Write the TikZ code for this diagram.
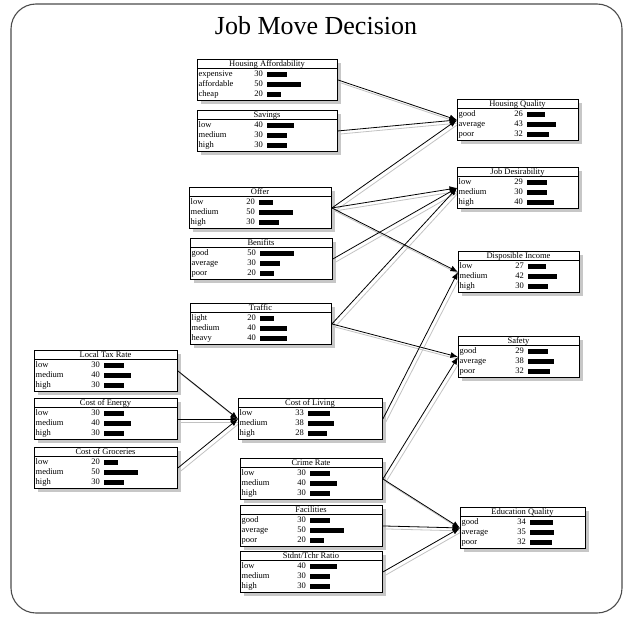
\documentclass[tikz,border=0pt]{standalone}
\usepackage{fontspec}
\setmainfont{Liberation Serif}
\usetikzlibrary{arrows.meta}
\usetikzlibrary{shadows}
\usetikzlibrary{backgrounds}

\tikzset{
  bbox/.style={draw, line width=0.9pt, fill=white, minimum height=41pt, inner sep=0pt,
    anchor=north west,
    drop shadow={shadow xshift=4pt, shadow yshift=-4pt, fill=black!22, opacity=1}},
  ttl/.style={anchor=base, inner sep=0pt, font=\fontsize{8.5}{9}\selectfont},
  lbl/.style={anchor=base west, inner sep=0pt, font=\fontsize{8.5}{9}\selectfont},
  num/.style={anchor=base east, inner sep=0pt, font=\fontsize{8.5}{9}\selectfont},
  link/.style={line width=0.8pt, -{Latex[length=7.5pt,width=6pt]}},
  linkshade/.style={line width=0.8pt, black!24}
}

% name, x, y, width, title, rows
\newcommand{\bnode}[6]{%
  \node[bbox, minimum width=#4pt] (#1) at (#2,#3) {};
  \node[ttl] (#1-ttl) at (#2+#4/2,#3+7.3) {#5};
  \draw[line width=0.7pt] (#2,#3+9.5) -- (#2+#4,#3+9.5);
  \foreach \lab/\val [count=\i] in {#6} {
    \node[lbl] (#1-l\i) at (#2+1.5,#3+7.7+10*\i) {\lab};
    \node[num] (#1-n\i) at (#2+66,#3+7.7+10*\i) {\val};
    \fill (#2+70,#3+2.7+10*\i) rectangle ++(0.68*\val,5);
  }%
}

\begin{document}
\begin{tikzpicture}[x=1pt,y=-1pt]
\useasboundingbox (0,0) rectangle (632,618);

\draw[line width=1.1pt, black!70, rounded corners=25pt] (11,4) rectangle (622,613);
\node[anchor=base, inner sep=0pt, font=\fontsize{26}{28}\selectfont] (title) at (316,35) {Job Move Decision};

% parents
\bnode{haff}{197}{59}{140}{Housing Affordability}{expensive/30, affordable/50, cheap/20}
\bnode{sav}{197}{110}{140}{Savings}{low/40, medium/30, high/30}
\bnode{offer}{189}{187}{142}{Offer}{low/20, medium/50, high/30}
\bnode{ben}{190}{238}{142}{Benifits}{good/50, average/30, poor/20}
\bnode{traf}{190}{303}{141}{Traffic}{light/20, medium/40, heavy/40}
\bnode{ltax}{34}{350}{143}{Local Tax Rate}{low/30, medium/40, high/30}
\bnode{energy}{34}{398}{143}{Cost of Energy}{low/30, medium/40, high/30}
\bnode{groc}{34}{447}{143}{Cost of Groceries}{low/20, medium/50, high/30}
\bnode{col}{238}{398}{144}{Cost of Living}{low/33, medium/38, high/28}
\bnode{crime}{240}{458}{142}{Crime Rate}{low/30, medium/40, high/30}
\bnode{facil}{240}{505}{142}{Facilities}{good/30, average/50, poor/20}
\bnode{stt}{240}{551}{142}{Stdnt/Tchr Ratio}{low/40, medium/30, high/30}

% children
\bnode{hqual}{457}{99}{121}{Housing Quality}{good/26, average/43, poor/32}
\bnode{jobd}{457}{167}{121}{Job Desirability}{low/29, medium/30, high/40}
\bnode{dinc}{458}{251}{121}{Disposible Income}{low/27, medium/42, high/30}
\bnode{safe}{458}{336}{121}{Safety}{good/29, average/38, poor/32}
\bnode{eduq}{460}{507}{125}{Education Quality}{good/34, average/35, poor/32}

\begin{scope}[on background layer]
\foreach \s/\t in {haff/hqual, sav/hqual, offer/hqual, offer/jobd, offer/dinc, ben/jobd,
    traf/jobd, traf/safe, ltax/col, energy/col, groc/col, col/dinc, crime/safe,
    crime/eduq, facil/eduq, stt/eduq}
  \draw[linkshade] ([shift={(3,3)}]\s.east) -- ([shift={(3,3)}]\t.west);
\end{scope}

\foreach \s/\t in {haff/hqual, sav/hqual, offer/hqual, offer/jobd, offer/dinc, ben/jobd,
    traf/jobd, traf/safe, ltax/col, energy/col, groc/col, col/dinc, crime/safe,
    crime/eduq, facil/eduq, stt/eduq}
  \draw[link] (\s.east) -- (\t.west);

\end{tikzpicture}
\end{document}
